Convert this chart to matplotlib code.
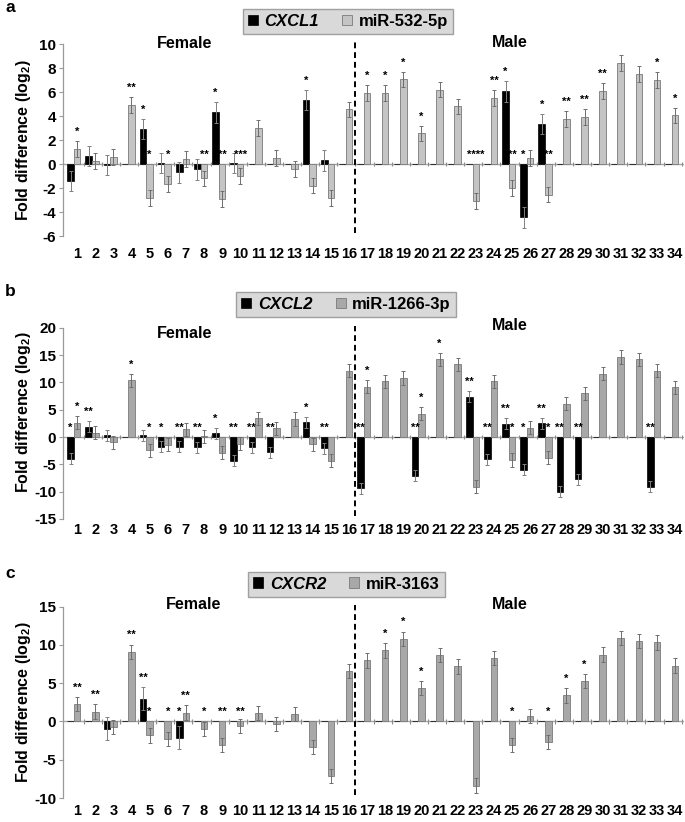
import numpy as np
import matplotlib
matplotlib.use("Agg")
import matplotlib.pyplot as plt
from matplotlib.patches import Patch

plt.rcParams['font.family'] = ['Liberation Sans', 'DejaVu Sans']
plt.rcParams['font.weight'] = 'bold'
plt.rcParams['mathtext.default'] = 'regular'

categories = [str(i) for i in range(1, 35)]

# ---------------- Panel a: CXCL1 / miR-532-5p ----------------
a_black = [-1.4, 0.65, -0.1, 0, 2.9, 0.1, -0.7, -0.45, 4.3, 0.1, 0, 0, 0, 5.35, 0.3, 0,
           0, 0, 0, 0, 0, 0, 0, 0, 6.05, -4.45, 3.35, 0, 0, 0, 0, 0, 0, 0]
a_gray = [1.25, 0.25, 0.6, 4.9, -2.85, -1.65, 0.4, -1.2, -2.9, -1.0, 3.0, 0.5, -0.4, -1.8, -2.85, 4.55,
          5.9, 5.9, 7.05, 2.55, 6.2, 4.8, -3.1, 5.5, -2.0, 0.5, -2.55, 3.75, 3.9, 6.1, 8.4, 7.5, 7.0, 4.05]
a_black_err = 0.85
a_gray_err = 0.65
a_stars_black = ['', '', '', '', '*', '', '', '', '*', '', '', '', '', '*', '', '',
                 '', '', '', '', '', '', '', '', '*', '*', '*', '', '', '', '', '', '', '']
a_stars_gray = ['*', '', '', '**', '*', '*', '', '**', '**', '***', '', '', '', '', '', '',
                '*', '*', '*', '*', '', '', '****', '**', '**', '', '**', '**', '**', '**', '', '', '*', '*']

# ---------------- Panel b: CXCL2 / miR-1266-3p ----------------
b_black = [-3.95, 1.9, 0.3, 0, 0.3, -1.8, -1.8, -1.9, 0.7, -4.3, -1.9, -2.8, 0, 2.7, -2.1, 0,
           -9.4, 0, 0, -7.1, 0, 0, 7.4, -4.1, 2.45, -6.0, 2.55, -10.0, -7.7, 0, 0, 0, -9.1, 0]
b_gray = [2.6, 0.8, -1.0, 10.35, -2.45, -1.4, 1.4, 0.1, -2.9, -1.2, 3.4, 1.6, 3.3, -1.3, -4.3, 12.1,
          9.2, 10.2, 10.8, 4.3, 14.2, 13.3, -9.1, 10.2, -4.2, 1.7, -3.8, 6.1, 8.0, 11.55, 14.65, 14.2, 12.1, 9.1]
b_black_err = 1.0
b_gray_err = 1.2
b_stars_black = ['*', '**', '', '', '', '*', '**', '**', '*', '**', '**', '**', '', '*', '**', '',
                 '**', '', '', '**', '', '', '**', '**', '**', '*', '**', '**', '**', '', '', '', '**', '']
b_stars_gray = ['*', '', '', '*', '*', '', '', '', '', '', '', '', '', '', '', '',
                '*', '', '', '*', '*', '', '', '', '*', '', '*', '', '', '', '', '', '', '']

# ---------------- Panel c: CXCR2 / miR-3163 ----------------
c_black = [0, 0, -0.95, 0, 2.95, 0, -2.1, 0, 0, 0, 0, 0, 0, 0, 0, 0,
           0, 0, 0, 0, 0, 0, 0, 0, 0, 0, 0, 0, 0, 0, 0, 0, 0, 0]
c_gray = [2.3, 1.3, -0.7, 9.1, -1.8, -2.3, 1.15, -1.0, -3.1, -0.6, 1.1, -0.3, 1.0, -3.35, -7.15, 6.6,
          8.0, 9.3, 10.8, 4.35, 8.7, 7.2, -8.4, 8.3, -3.1, 0.7, -2.7, 3.4, 5.3, 8.75, 10.9, 10.5, 10.35, 7.3]
c_black_err = 1.5
c_gray_err = 0.95
c_stars_black = ['', '', '', '', '**', '', '*', '', '', '', '', '', '', '', '', '',
                 '', '', '', '', '', '', '', '', '', '', '', '', '', '', '', '', '', '']
c_stars_gray = ['**', '**', '', '**', '*', '*', '**', '*', '**', '**', '', '', '', '', '', '',
                '', '*', '*', '*', '', '', '', '', '*', '', '*', '*', '*', '', '', '', '', '']

blank_series = [0] * 34

W, H = 685, 822
fig = plt.figure(figsize=(W / 100, H / 100), dpi=100)


def axes_rect(top_px, bottom_px, left_px=63, right_px=684):
    return [left_px / W, 1 - bottom_px / H, (right_px - left_px) / W, (bottom_px - top_px) / H]


def draw_panel(ax, black, gray, black_err, gray_err, blank_err, st_black, st_gray,
               ylim, yticks, gray_color, gene, mirna, legend_xy, letter, letter_xy,
               female_xy, male_xy, ylabel_y, xpad):
    x = np.arange(1, 35)
    w = 0.36
    black = np.array(black, dtype=float)
    gray = np.array(gray, dtype=float)
    ax.bar(x - w, black, width=w, color='black', edgecolor='black', linewidth=0.5, zorder=3)
    ax.bar(x, gray, width=w, color=gray_color, edgecolor='#7a7a7a', linewidth=0.6, zorder=3)
    nz = black != 0
    ax.errorbar((x - w)[nz], black[nz], yerr=black_err, fmt='none', ecolor='#808080',
                elinewidth=0.7, capsize=1.5, capthick=0.7, zorder=4)
    ax.errorbar(x, gray, yerr=gray_err, fmt='none', ecolor='#6e6e6e',
                elinewidth=0.7, capsize=1.5, capthick=0.7, zorder=4)
    ax.errorbar(x + w, blank_series, yerr=blank_err, fmt='none', ecolor='#8c8c8c',
                elinewidth=0.8, capsize=0, zorder=4)
    ax.axhline(0, color='#a6a6a6', linewidth=1.0, zorder=2)

    for xi, v, s in zip(x - w, black, st_black):
        if s:
            y = v + black_err if v > 0 else 0
            ax.annotate(s, (xi, y), xytext=(0, 4.5), textcoords='offset points',
                        ha='center', va='baseline', fontsize=8, fontweight='bold', zorder=5)
    for xi, v, s in zip(x, gray, st_gray):
        if s:
            y = v + gray_err if v > 0 else 0
            ax.annotate(s, (xi, y), xytext=(0, 4.5), textcoords='offset points',
                        ha='center', va='baseline', fontsize=8, fontweight='bold', zorder=5)

    ax.set_xlim(0.22, 34.49)
    ax.set_ylim(*ylim)
    ax.set_yticks(yticks)
    ax.set_yticklabels([str(t) for t in yticks], fontsize=11, fontweight='bold')
    ax.set_xticks(x)
    ax.set_xticklabels(categories, fontsize=10.5, fontweight='bold')
    ax.tick_params(axis='x', length=0, pad=xpad)
    ax.tick_params(axis='y', length=3, width=0.8, color='#999999', pad=2)
    for sp in ['top', 'right', 'bottom']:
        ax.spines[sp].set_visible(False)
    ax.spines['left'].set_color('#999999')
    ax.spines['left'].set_linewidth(0.9)

    ax.axvline(16.35, ymin=0.015, ymax=1.008, color='black', linestyle=(0, (3, 2)),
               linewidth=1.4, clip_on=False, zorder=5)

    ax.text(female_xy[0], female_xy[1], 'Female', transform=ax.get_xaxis_transform(),
            ha='center', va='center', fontsize=11.5, fontweight='bold')
    ax.text(male_xy[0], male_xy[1], 'Male', transform=ax.get_xaxis_transform(),
            ha='center', va='center', fontsize=11.5, fontweight='bold')

    ax.set_ylabel('Fold difference (log$_2$)', fontsize=11.5, fontweight='bold')
    ax.yaxis.set_label_coords(-0.049, ylabel_y)

    handles = [Patch(facecolor='black', edgecolor='black', linewidth=0.5),
               Patch(facecolor=gray_color, edgecolor='#7a7a7a', linewidth=0.6)]
    leg = ax.legend(handles, [gene, mirna], loc='center',
                    bbox_to_anchor=(legend_xy[0] / W, 1 - legend_xy[1] / H),
                    bbox_transform=fig.transFigure, ncol=2, frameon=True, fancybox=False,
                    handlelength=0.6, handleheight=0.6, handletextpad=0.4,
                    columnspacing=1.4, borderpad=0.3, borderaxespad=0,
                    prop={'size': 12, 'weight': 'bold'})
    leg.get_frame().set_facecolor('#d9d9d9')
    leg.get_frame().set_edgecolor('#a0a0a0')
    leg.get_frame().set_linewidth(1.0)
    leg.get_frame().set_alpha(1)
    leg.get_texts()[0].set_style('italic')

    fig.text(letter_xy[0] / W, 1 - letter_xy[1] / H, letter, fontsize=12.5,
             fontweight='bold', ha='left', va='center')


ax_a = fig.add_axes(axes_rect(44, 236))
draw_panel(ax_a, a_black, a_gray, a_black_err, a_gray_err, 0.2, a_stars_black, a_stars_gray,
           (-6, 10), list(range(-6, 11, 2)), '#c4c4c4', 'CXCL1', 'miR-532-5p',
           (348, 21.5), 'a', (5, 8), (6.95, 1.005), (24.9, 1.01), 0.5, 8)

ax_b = fig.add_axes(axes_rect(327.7, 519))
draw_panel(ax_b, b_black, b_gray, b_black_err, b_gray_err, 0.45, b_stars_black, b_stars_gray,
           (-15, 20), list(range(-15, 21, 5)), '#a8a8a8', 'CXCL2', 'miR-1266-3p',
           (346, 304.5), 'b', (5, 291), (6.95, 0.972), (24.9, 1.014), 0.56, 3)

ax_c = fig.add_axes(axes_rect(606.7, 798))
draw_panel(ax_c, c_black, c_gray, c_black_err, c_gray_err, 0.3, c_stars_black, c_stars_gray,
           (-10, 15), list(range(-10, 16, 5)), '#a8a8a8', 'CXCR2', 'miR-3163',
           (346.5, 584), 'c', (5, 573), (7.4, 1.014), (24.9, 1.009), 0.5, 4.5)

fig.savefig('out.png', dpi=100)
